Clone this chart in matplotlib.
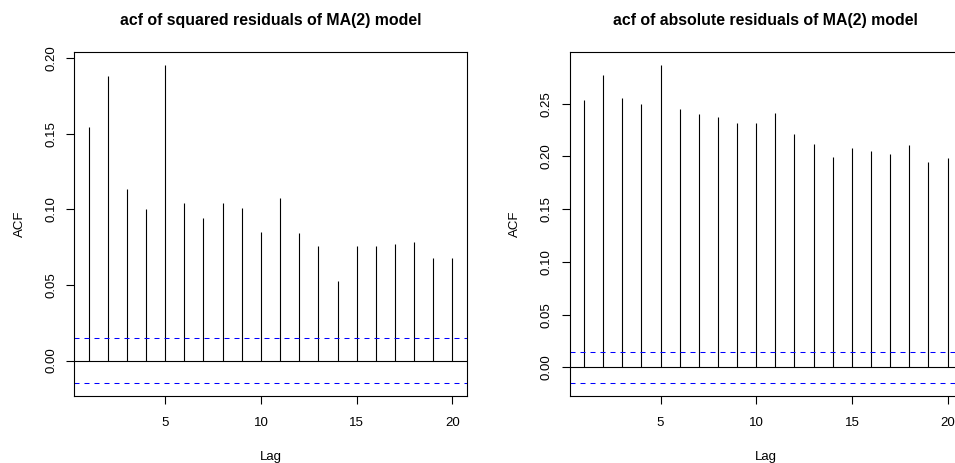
import matplotlib
matplotlib.use("Agg")
import matplotlib.pyplot as plt
import numpy as np

plt.rcParams['font.family'] = ['Liberation Sans', 'DejaVu Sans']
plt.rcParams['lines.scale_dashes'] = False

lags = list(range(1, 21))
acf_squared = [0.1547, 0.1883, 0.1135, 0.1000, 0.1956, 0.1042, 0.0940, 0.1042, 0.1011, 0.0852,
               0.1075, 0.0841, 0.0755, 0.0525, 0.0759, 0.0759, 0.0768, 0.0786, 0.0675, 0.0680]
acf_absolute = [0.2535, 0.2775, 0.2557, 0.2494, 0.2867, 0.2449, 0.2402, 0.2374, 0.2317, 0.2320,
                0.2408, 0.2212, 0.2121, 0.1994, 0.2080, 0.2051, 0.2023, 0.2108, 0.1947, 0.1982]
clim = 0.0150
titles = ["acf of squared residuals of MA(2) model", "acf of absolute residuals of MA(2) model"]
xticks = [5, 10, 15, 20]
yticks_sq = [0.00, 0.05, 0.10, 0.15, 0.20]
yticks_abs = [0.00, 0.05, 0.10, 0.15, 0.20, 0.25]

W, H = 955, 463
fig = plt.figure(figsize=(W / 100, H / 100), dpi=100)

def px_axes(l, t, r, b):
    return fig.add_axes([l / W, 1 - b / H, (r - l) / W, (b - t) / H])

def r_range(vals):
    lo, hi = min(vals), max(vals)
    d = (hi - lo) * 0.04
    return lo - d, hi + d

panels = [
    (px_axes(74, 52, 467, 396), acf_squared, yticks_sq, titles[0]),
    (px_axes(569.5, 52.3, 962.1, 396), acf_absolute, yticks_abs, titles[1]),
]

for ax, vals, yt, title in panels:
    ax.vlines(lags, 0, vals, color='black', linewidth=0.8)
    ax.axhline(0, color='black', linewidth=0.8)
    ax.axhline(clim, color='blue', linewidth=0.75, linestyle=(0, (3.6, 3.6)))
    ax.axhline(-clim, color='blue', linewidth=0.75, linestyle=(0, (3.6, 3.6)))
    ax.set_xlim(*r_range(lags))
    ax.set_ylim(*r_range(vals + [clim, -clim]))
    ax.set_xticks(xticks)
    ax.set_xticklabels([str(x) for x in xticks])
    ax.set_yticks(yt)
    ax.set_yticklabels([f"{y:.2f}" for y in yt], rotation=90, va='center')
    ax.tick_params(axis='both', length=6, width=0.8, labelsize=9.5, color='black')
    ax.tick_params(axis='x', pad=9)
    ax.tick_params(axis='y', pad=6)
    for s in ax.spines.values():
        s.set_linewidth(0.8)
    ax.set_xlabel("Lag", fontsize=9.5, labelpad=16)
    ax.set_ylabel("ACF", fontsize=9.5, labelpad=14)
    pos = ax.get_position()
    fig.text((pos.x0 + pos.x1) / 2, 1 - 20 / H, title, ha='center', va='center',
             fontsize=11.4, fontweight='bold')

fig.savefig("out.png", dpi=100)
